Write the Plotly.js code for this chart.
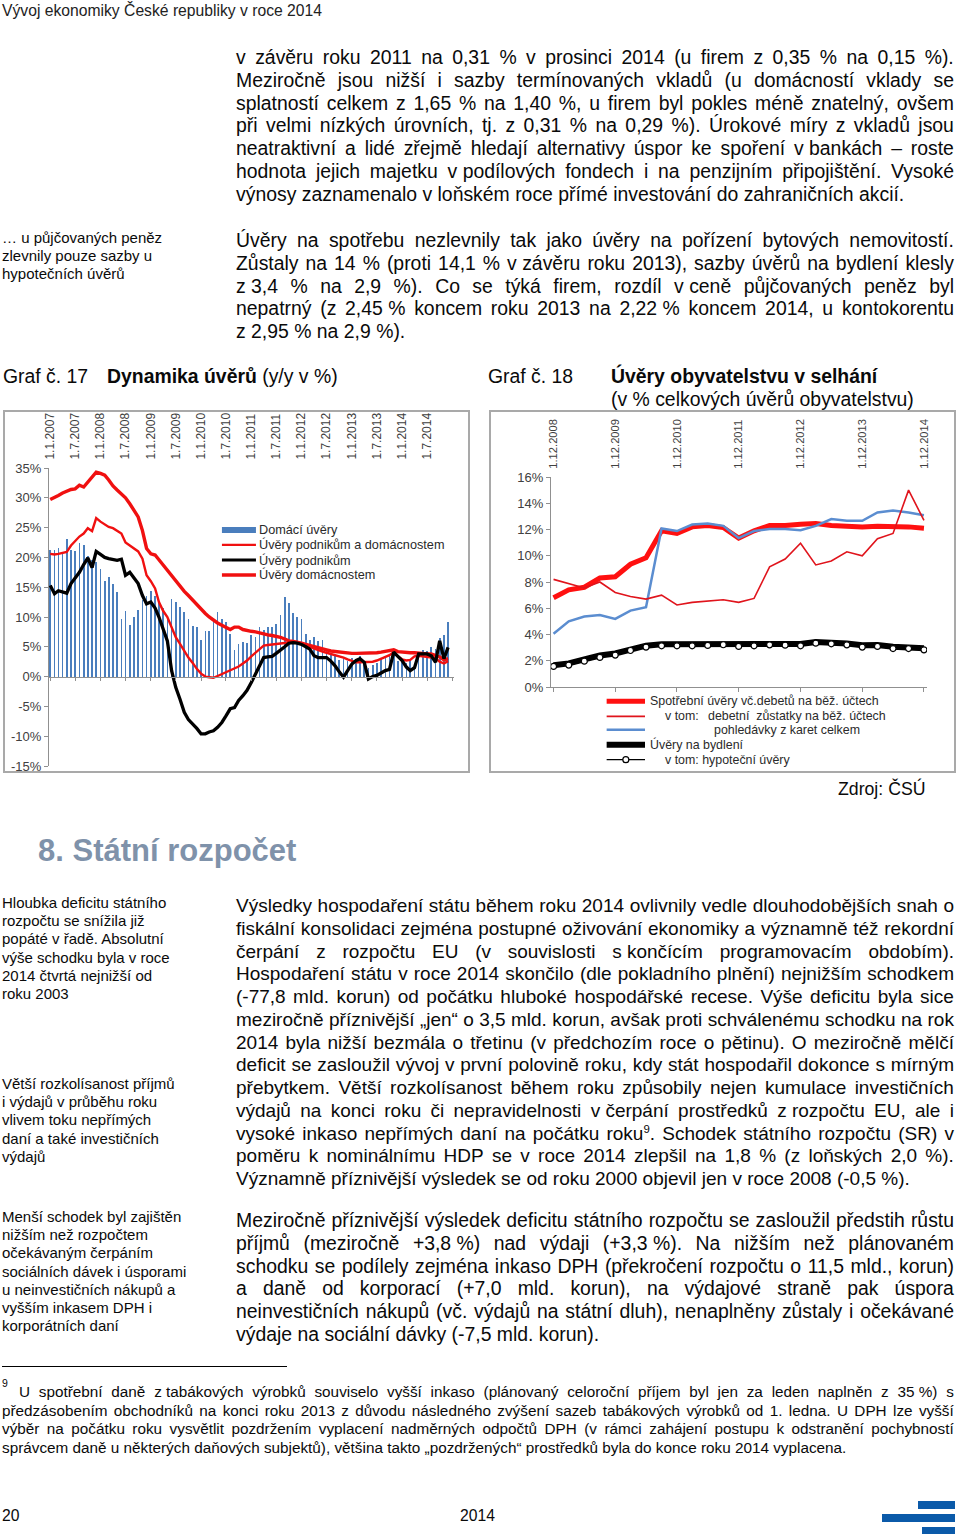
<!DOCTYPE html>
<html><head><meta charset="utf-8">
<script src="https://cdn.plot.ly/plotly-3.0.1.min.js"></script>
<style>
html,body{margin:0;padding:0}
body{width:960px;height:1536px;position:relative;background:#fff;font-family:"Liberation Sans",Arial,sans-serif;color:#0a0a0a;overflow:hidden}
.abs{position:absolute;white-space:nowrap}
.frame{position:absolute;border:2px solid #a9a9a9;box-sizing:border-box;pointer-events:none;z-index:5}
.chart{position:absolute}
sup{font-size:0.6em;line-height:0;vertical-align:super}
</style>
</head><body>
<div id="c17" class="chart" style="left:3px;top:410px;width:467px;height:363px"></div>
<div class="frame" style="left:3px;top:410px;width:467px;height:363px"></div>
<div id="c18" class="chart" style="left:489px;top:410px;width:467px;height:363px"></div>
<div class="frame" style="left:489px;top:410px;width:467px;height:363px"></div>
<script>
// ---------- Chart 17 data: monthly, Jan 2007 - Dec 2014 ----------
const years17 = [2007, 2008, 2009, 2010, 2011, 2012, 2013, 2014];
const tickDates17 = ['2007-01-01','2007-07-01','2008-01-01','2008-07-01','2009-01-01','2009-07-01','2010-01-01','2010-07-01','2011-01-01','2011-07-01','2012-01-01','2012-07-01','2013-01-01','2013-07-01','2014-01-01','2014-07-01'];
const tickLabels17 = ['1.1.2007','1.7.2007','1.1.2008','1.7.2008','1.1.2009','1.7.2009','1.1.2010','1.7.2010','1.1.2011','1.7.2011','1.1.2012','1.7.2012','1.1.2013','1.7.2013','1.1.2014','1.7.2014'];
const zeroTicks17 = ['2007-01-01','2007-07-01','2008-01-01','2008-07-01','2009-01-01','2009-07-01','2010-01-01','2010-07-01','2011-01-01','2011-07-01','2012-01-01','2012-07-01','2013-01-01','2013-07-01','2014-01-01','2014-07-01','2015-01-01'];
const yTicks17 = [-15, -10, -5, 0, 5, 10, 15, 20, 25, 30, 35];
const yTickText17 = ['-15%','-10%','-5%','0%','5%','10%','15%','20%','25%','30%','35%'];

const domaciUvery = [
 21.2, 21.2, 21.6, 20.6, 23.1, 21.2, 21.0, 22.4, 22.1, 20.2, 19.6, 19.3,
 18.0, 16.0, 16.7, 15.6, 14.2, 9.7, 11.0, 8.6, 10.0, 11.2, 12.9, 13.5,
 14.3, 13.6, 12.6, 11.5, 10.0, 13.0, 12.6, 11.6, 10.9, 9.6, 8.5, 8.3,
 6.2, 7.6, 7.6, 9.1, 10.8, 9.6, 9.2, 7.1, 4.4, 5.4, 5.8, 5.6,
 6.9, 6.6, 8.3, 7.8, 8.3, 8.4, 8.9, 10.3, 13.4, 12.3, 10.6, 10.0,
 9.6, 7.2, 6.1, 6.6, 6.0, 6.1, 4.7, 3.6, 3.4, 2.8, 3.0, 2.6,
 3.2, 3.0, 3.4, 2.5, 1.4, 1.9, 2.2, 3.0, 3.2, 3.6, 3.8, 2.7,
 3.0, 2.3, 2.6, 1.6, 4.1, 4.4, 4.3, 5.0, 4.6, 6.4, 6.9, 9.2];
const uveryPodnikumADomacnostem = [
 20.6, 20.5, 20.6, 20.8, 20.9, 22.0, 22.8, 23.5, 24.0, 24.9, 24.4, 26.6,
 26.0, 25.5, 25.1, 24.9, 24.5, 24.0, 22.5, 22.0, 21.6, 21.0, 19.8, 17.0,
 16.0, 14.8, 12.5, 11.0, 10.0, 8.2, 6.6, 5.5, 4.3, 3.2, 2.3, 1.3,
 0.5, 0.0, -0.1, -0.2, 0.1, 0.4, 0.7, 1.0, 1.3, 1.7, 2.2, 2.7,
 3.4, 4.0, 4.6, 5.2, 5.3, 5.4, 5.5, 5.5, 5.6, 5.7, 5.8, 5.8,
 5.6, 5.3, 5.0, 4.7, 4.5, 4.2, 4.0, 3.8, 3.6, 3.5, 3.2, 2.9,
 2.6, 2.4, 2.4, 2.4, 2.4, 2.5, 2.7, 3.0, 3.2, 3.6, 4.1, 3.4,
 2.9, 2.7, 2.8, 3.4, 3.5, 3.4, 3.3, 3.2, 3.1, 2.5, 2.2, 2.6];
const uveryPodnikum = [
 15.3, 13.9, 14.4, 14.2, 14.0, 15.6, 16.5, 17.5, 18.8, 19.9, 18.3, 21.0,
 20.5, 20.0, 19.8, 19.6, 19.5, 19.7, 17.0, 17.5, 16.6, 15.6, 13.6, 12.2,
 12.5, 11.5, 10.0, 8.0, 6.0, 1.0, -1.8, -3.8, -6.0, -7.2, -7.9, -8.7,
 -9.6, -9.6, -9.3, -9.1, -8.5, -7.7, -6.6, -5.4, -5.2, -4.0, -3.2, -2.3,
 -1.0, 0.4, 1.8, 3.2, 3.3, 3.4, 3.9, 4.4, 5.0, 5.6, 5.7, 5.6,
 5.4, 5.0, 4.6, 3.5, 3.2, 3.2, 3.2, 2.6, 1.8, 0.8, -0.1, 1.0,
 2.1, 2.7, 3.0, 2.4, -0.4, 0.0, 0.2, 0.6, 1.0, 1.2, 4.1, 3.4,
 2.7, 1.6, 1.0, 1.5, 3.8, 3.8, 3.8, 3.5, 2.4, 6.0, 3.0, 4.9];
const uveryDomacnostem = [
 29.7, 30.0, 30.4, 30.8, 31.1, 31.4, 31.5, 32.1, 31.8, 32.6, 33.3, 34.3,
 34.1, 33.8, 33.0, 32.0, 31.3, 30.7, 30.0, 29.0, 28.0, 26.8, 24.5, 21.5,
 20.6, 20.4, 19.6, 18.7, 17.8, 17.0, 16.2, 15.3, 14.3, 13.6, 12.8, 12.0,
 11.3, 10.6, 10.0, 9.4, 9.0, 8.6, 8.3, 7.9, 8.3, 8.3, 7.9, 7.7,
 7.6, 7.5, 7.3, 7.2, 7.0, 6.9, 6.8, 6.6, 6.3, 6.0, 5.9, 5.8,
 5.6, 5.4, 5.2, 5.0, 4.8, 4.6, 4.5, 4.3, 4.2, 4.1, 4.0, 3.9,
 3.9, 3.9, 3.9, 4.0, 4.0, 4.0, 4.0, 4.1, 4.2, 4.3, 4.5, 4.2,
 4.1, 4.0, 4.0, 4.0, 3.9, 3.9, 3.8, 3.8, 3.6, 3.3, 2.8, 3.0];
const legend17 = ['Domácí úvěry','Úvěry podnikům a domácnostem','Úvěry podnikům','Úvěry domácnostem'];

// ---------- Chart 18 data: quarterly, Dec 2008 - Dec 2014 ----------
const quarters18 = ['2008-12-01','2009-03-01','2009-06-01','2009-09-01','2009-12-01','2010-03-01','2010-06-01','2010-09-01','2010-12-01','2011-03-01','2011-06-01','2011-09-01','2011-12-01','2012-03-01','2012-06-01','2012-09-01','2012-12-01','2013-03-01','2013-06-01','2013-09-01','2013-12-01','2014-03-01','2014-06-01','2014-09-01','2014-12-01'];
const tickDates18 = ['2008-12-01','2009-12-01','2010-12-01','2011-12-01','2012-12-01','2013-12-01','2014-12-01'];
const tickLabels18 = ['1.12.2008','1.12.2009','1.12.2010','1.12.2011','1.12.2012','1.12.2013','1.12.2014'];
const yTicks18 = [0, 2, 4, 6, 8, 10, 12, 14, 16];
const yTickText18 = ['0%','2%','4%','6%','8%','10%','12%','14%','16%'];
const spotrebniUvery = [6.8, 7.4, 7.6, 8.3, 8.4, 9.35, 9.85, 11.9, 11.7, 12.2, 12.3, 12.15, 11.35, 11.9, 12.3, 12.3, 12.4, 12.45, 12.3, 12.25, 12.2, 12.25, 12.25, 12.2, 12.1];
const debetniZustatky = [8.2, 7.9, 7.55, 8.0, 7.2, 6.9, 6.7, 7.0, 6.25, 6.45, 6.55, 6.65, 6.45, 6.75, 9.15, 9.75, 10.95, 9.3, 9.6, 10.3, 10.0, 11.3, 11.7, 15.0, 12.7];
const pohledavkyKarty = [4.05, 5.0, 5.37, 5.49, 5.19, 5.82, 6.08, 12.08, 11.88, 12.38, 12.46, 12.28, 11.35, 11.88, 12.03, 12.03, 11.95, 12.28, 12.79, 12.66, 12.66, 13.3, 13.45, 13.3, 13.09];
const uveryNaBydleni = [1.65, 1.8, 2.1, 2.4, 2.55, 2.9, 3.15, 3.25, 3.25, 3.25, 3.28, 3.3, 3.22, 3.26, 3.32, 3.31, 3.28, 3.42, 3.38, 3.32, 3.18, 3.2, 3.06, 3.04, 2.95];
const hypotecniUvery = [1.57, 1.67, 1.97, 2.25, 2.43, 2.78, 3.04, 3.14, 3.14, 3.14, 3.17, 3.22, 3.09, 3.14, 3.21, 3.19, 3.14, 3.34, 3.29, 3.21, 3.04, 3.09, 2.93, 2.93, 2.83];
const legend18 = ['Spotřební úvěry vč.debetů na běž. účtech','v tom:','debetní\u00a0 zůstatky na běž. účtech','pohledávky z karet celkem','Úvěry na bydlení','v tom: hypoteční úvěry'];

// month category list for chart 17
const months17 = [];
years17.forEach(y => { for (let m = 1; m <= 12; m++) months17.push(y + '-' + (m < 10 ? '0' + m : m) + '-01'); });

const FONT = 'Liberation Sans, Arial, sans-serif';
const RED = '#f01010';

// ---------- Chart 17 ----------
const t17 = [
  {type:'bar', x:months17, y:domaciUvery, marker:{color:'#4a7ebd', line:{width:0}}, width:12*86400000},
  {type:'scatter', mode:'lines', x:months17, y:uveryDomacnostem, line:{color:RED, width:3.4}},
  {type:'scatter', mode:'lines', x:months17, y:uveryPodnikumADomacnostem, line:{color:RED, width:2.4}},
  {type:'scatter', mode:'lines', x:months17, y:uveryPodnikum, line:{color:'#000', width:3.3}},
  {type:'scatter', mode:'lines', x:[], y:[], xaxis:'x2', showlegend:false, hoverinfo:'skip'}
];
const leg17y = [0.792, 0.742, 0.691, 0.641];
const leg17Style = [{c:'#4a7ebd', w:6},{c:RED, w:2.4},{c:'#000', w:3},{c:RED, w:3.3}];
const shapes17 = leg17Style.map((s,i)=>({type:'line', xref:'paper', yref:'paper', x0:0.427, x1:0.511, y0:leg17y[i], y1:leg17y[i], line:{color:s.c, width:s.w}}));
const ann17 = legend17.map((t,i)=>({text:t, xref:'paper', yref:'paper', x:0.514, y:leg17y[i], xanchor:'left', yanchor:'middle', showarrow:false, font:{family:FONT, size:12.7, color:'#2a2a2a'}}));
const layout17 = {
  width:467, height:363, margin:{l:46, r:16, t:58, b:7},
  paper_bgcolor:'#fff', plot_bgcolor:'#fff', showlegend:false, bargap:0,
  font:{family:FONT, size:13, color:'#404040'},
  xaxis:{type:'date', range:['2006-12-23','2015-01-13'], anchor:'free', position:0.3, showline:true, linecolor:'#909090', linewidth:1,
    ticks:'outside', ticklen:3, tickcolor:'#909090', tickvals:zeroTicks17, showticklabels:false, showgrid:false, zeroline:false},
  xaxis2:{type:'date', range:['2006-12-23','2015-01-13'], overlaying:'x', side:'top', anchor:'y', showline:false, ticks:'outside', ticklen:5,
    tickcolor:'rgba(0,0,0,0)', tickvals:tickDates17, ticktext:tickLabels17, tickangle:-90, showgrid:false, zeroline:false,
    tickfont:{family:FONT, size:12, color:'#404040'}},
  yaxis:{range:[-15,35], tickvals:yTicks17, ticktext:yTickText17, showline:true, linecolor:'#909090', linewidth:1, ticks:'outside', ticklen:4,
    tickcolor:'#909090', showgrid:false, zeroline:false, ticklabeloverflow:'allow', tickfont:{family:FONT, size:13, color:'#404040'}},
  shapes:shapes17, annotations:ann17
};
Plotly.newPlot('c17', t17, layout17, {staticPlot:true, displayModeBar:false});

// ---------- Chart 18 ----------
const t18 = [
  {type:'scatter', mode:'lines', x:quarters18, y:spotrebniUvery, line:{color:'#ff1010', width:5}},
  {type:'scatter', mode:'lines', x:quarters18, y:pohledavkyKarty, line:{color:'#5b8dd0', width:2.5}},
  {type:'scatter', mode:'lines', x:quarters18, y:debetniZustatky, line:{color:'#e0141c', width:1.6}},
  {type:'scatter', mode:'lines', x:quarters18, y:uveryNaBydleni, line:{color:'#000', width:6}},
  {type:'scatter', mode:'lines+markers', x:quarters18, y:hypotecniUvery, line:{color:'#000', width:1.2},
    marker:{symbol:'circle', size:6, color:'#fff', line:{color:'#000', width:1.2}}},
  {type:'scatter', mode:'lines', x:[], y:[], xaxis:'x2', hoverinfo:'skip'}
];
const leg18y = [-0.068, -0.140, -0.203, -0.275, -0.346];
const leg18Style = [{c:'#ff1010', w:5},{c:'#e0141c', w:1.6},{c:'#5b8dd0', w:2.5},{c:'#000', w:6},{c:'#000', w:1.2}];
const shapes18 = leg18Style.map((s,i)=>({type:'line', xref:'paper', yref:'paper', x0:0.148, x1:0.250, y0:leg18y[i], y1:leg18y[i], line:{color:s.c, width:s.w}}));
shapes18.push({type:'circle', xref:'paper', yref:'paper', xsizemode:'pixel', ysizemode:'pixel', xanchor:0.199, yanchor:leg18y[4],
  x0:-3, x1:3, y0:-3, y1:3, fillcolor:'#fff', line:{color:'#000', width:1.2}});
const leg18Pos = [[0.258,0],[0.298,1],[0.413,1],[0.428,2],[0.258,3],[0.298,4]];
const ann18 = legend18.map((t,i)=>({text:t, xref:'paper', yref:'paper', x:leg18Pos[i][0], y:leg18y[leg18Pos[i][1]], xanchor:'left', yanchor:'middle',
  showarrow:false, font:{family:FONT, size:12.4, color:'#2a2a2a'}}));
const layout18 = {
  width:467, height:363, margin:{l:62, r:29, t:67, b:86},
  paper_bgcolor:'#fff', plot_bgcolor:'#fff', showlegend:false,
  font:{family:FONT, size:13, color:'#404040'},
  xaxis:{type:'date', range:['2008-11-16','2014-12-19'], showline:true, linecolor:'#909090', linewidth:1, ticks:'outside', ticklen:4,
    tickcolor:'#909090', tickvals:tickDates18, showticklabels:false, showgrid:false, zeroline:false},
  xaxis2:{type:'date', range:['2008-11-16','2014-12-19'], overlaying:'x', side:'top', anchor:'y', showline:false, ticks:'outside', ticklen:5,
    tickcolor:'rgba(0,0,0,0)', tickvals:tickDates18, ticktext:tickLabels18, tickangle:-90, showgrid:false, zeroline:false,
    tickfont:{family:FONT, size:11.2, color:'#404040'}},
  yaxis:{range:[0,16], tickvals:yTicks18, ticktext:yTickText18, showline:true, linecolor:'#909090', linewidth:1, ticks:'outside', ticklen:4,
    tickcolor:'#909090', showgrid:false, zeroline:false, ticklabeloverflow:'allow', tickfont:{family:FONT, size:13, color:'#404040'}},
  shapes:shapes18, annotations:ann18
};
Plotly.newPlot('c18', t18, layout18, {staticPlot:true, displayModeBar:false});

// ---------- page text ----------
function addLines(left, top, width, size, lh, lines, justify, extra){
  const box = document.createElement('div');
  box.style.cssText = 'position:absolute;left:'+left+'px;top:'+top+'px;width:'+width+'px;font-size:'+size+'px;line-height:'+lh+'px;' + (extra||'');
  lines.forEach((ln, i) => {
    const d = document.createElement('div');
    d.style.height = lh + 'px';
    d.style.whiteSpace = 'nowrap';
    if (justify && i < lines.length - 1) {
      d.style.display = 'flex';
      d.style.justifyContent = 'space-between';
      ln.split(' ').forEach(w => { const s = document.createElement('span'); s.innerHTML = w; d.appendChild(s); });
    } else d.innerHTML = ln;
    box.appendChild(d);
  });
  document.body.appendChild(box);
}
function addText(left, top, size, html, extra){
  const d = document.createElement('div');
  d.className = 'abs';
  d.style.cssText += 'left:'+left+'px;top:'+top+'px;font-size:'+size+'px;' + (extra||'');
  d.innerHTML = html;
  document.body.appendChild(d);
}
const NB = '\u00a0';
const BODY = 19.4, LH = 22.75;
addText(2, 2, 15.7, 'Vývoj ekonomiky České republiky v roce 2014', 'color:#222;line-height:18px');

addLines(236, 46, 718, BODY, LH, [
 'v závěru roku 2011 na 0,31 % v prosinci 2014 (u firem z 0,35 % na 0,15 %).',
 'Meziročně jsou nižší i sazby termínovaných vkladů (u domácností vklady se',
 'splatností celkem z 1,65 % na 1,40 %, u firem byl pokles méně znatelný, ovšem',
 'při velmi nízkých úrovních, tj. z 0,31 % na 0,29 %). Úrokové míry z vkladů jsou',
 'neatraktivní a lidé zřejmě hledají alternativy úspor ke spoření v'+NB+'bankách – roste',
 'hodnota jejich majetku v'+NB+'podílových fondech i na penzijním připojištění. Vysoké',
 'výnosy zaznamenalo v loňském roce přímé investování do zahraničních akcií.'
], true);

addLines(2, 229, 230, 15, 18.2, ['… u půjčovaných peněz','zlevnily pouze sazby u','hypotečních úvěrů'], false);

addLines(236, 229, 718, BODY, LH, [
 'Úvěry na spotřebu nezlevnily tak jako úvěry na pořízení bytových nemovitostí.',
 'Zůstaly na 14 % (proti 14,1 % v'+NB+'závěru roku 2013), sazby úvěrů na bydlení klesly',
 'z'+NB+'3,4 % na 2,9 %). Co se týká firem, rozdíl v'+NB+'ceně půjčovaných peněz byl',
 'nepatrný (z 2,45'+NB+'% koncem roku 2013 na 2,22'+NB+'% koncem 2014, u kontokorentu',
 'z'+NB+'2,95 % na 2,9 %).'
], true);

addText(3, 365, 19.4, 'Graf č. 17', 'line-height:23px');
addText(107, 365, 19.4, '<b>Dynamika úvěrů</b> (y/y v %)', 'line-height:23px');
addText(488, 365, 19.4, 'Graf č. 18', 'line-height:23px');
addText(611, 365, 19.4, '<b>Úvěry obyvatelstvu v selhání</b>', 'line-height:23px');
addText(611, 388, 19.4, '(v % celkových úvěrů obyvatelstvu)', 'line-height:23px');

addText(838, 778, 17.7, 'Zdroj: ČSÚ', 'line-height:22.75px');

addText(38, 833, 31, '<b>8. Státní rozpočet</b>', 'line-height:36px;color:#7f92aa');

addLines(2, 894, 230, 15, 18.2, ['Hloubka deficitu státního','rozpočtu se snížila již','popáté v řadě. Absolutní','výše schodku byla v roce','2014 čtvrtá nejnižší od','roku 2003'], false);
addLines(2, 1075, 230, 15, 18.2, ['Větší rozkolísanost příjmů','i výdajů v průběhu roku','vlivem toku nepřímých','daní a také investičních','výdajů'], false);
addLines(2, 1208, 230, 15, 18.2, ['Menší schodek byl zajištěn','nižším než rozpočtem','očekávaným čerpáním','sociálních dávek i úsporami','u neinvestičních nákupů a','vyšším inkasem DPH i','korporátních daní'], false);

addLines(236, 895, 718, 19.0, LH, [
 'Výsledky hospodaření státu během roku 2014 ovlivnily vedle dlouhodobějších snah o',
 'fiskální konsolidaci zejména postupné oživování ekonomiky a významně též rekordní',
 'čerpání z rozpočtu EU (v souvislosti s'+NB+'končícím programovacím obdobím).',
 'Hospodaření státu v roce 2014 skončilo (dle pokladního plnění) nejnižším schodkem',
 '(-77,8 mld. korun) od počátku hluboké hospodářské recese. Výše deficitu byla sice',
 'meziročně příznivější „jen“ o 3,5 mld. korun, avšak proti schválenému schodku na rok',
 '2014 byla nižší bezmála o třetinu (v předchozím roce o pětinu). O meziročně mělčí',
 'deficit se zasloužil vývoj v první polovině roku, kdy stát hospodařil dokonce s mírným',
 'přebytkem. Větší rozkolísanost během roku způsobily nejen kumulace investičních',
 'výdajů na konci roku či nepravidelnosti v'+NB+'čerpání prostředků z'+NB+'rozpočtu EU, ale i',
 'vysoké inkaso nepřímých daní na počátku roku<sup>9</sup>. Schodek státního rozpočtu (SR) v',
 'poměru k nominálnímu HDP se v roce 2014 zlepšil na 1,8 % (z loňských 2,0 %).',
 'Významně příznivější výsledek se od roku 2000 objevil jen v roce 2008 (-0,5 %).'
], true);

addLines(236, 1209, 718, BODY, LH, [
 'Meziročně příznivější výsledek deficitu státního rozpočtu se zasloužil předstih růstu',
 'příjmů (meziročně +3,8'+NB+'%) nad výdaji (+3,3'+NB+'%). Na nižším než plánovaném',
 'schodku se podílely zejména inkaso DPH (překročení rozpočtu o 11,5 mld., korun)',
 'a daně od korporací (+7,0 mld. korun), na výdajové straně pak úspora',
 'neinvestičních nákupů (vč. výdajů na státní dluh), nenaplněny zůstaly i očekávané',
 'výdaje na sociální dávky (-7,5 mld. korun).'
], true);

// footnote
const fl = document.createElement('div');
fl.style.cssText = 'position:absolute;left:2px;top:1366px;width:285px;height:1px;background:#000';
document.body.appendChild(fl);
addText(2, 1377, 10.5, '9', 'line-height:12px');
const FN = 15.3, FLH = 18.6;
addLines(19, 1383, 935, FN, FLH, [
 'U spotřební daně z'+NB+'tabákových výrobků souviselo vyšší inkaso (plánovaný celoroční příjem byl jen za leden naplněn z 35'+NB+'%) s',
 ''
], true);
addLines(2, 1383 + FLH, 952, FN, FLH, [
 'předzásobením obchodníků na konci roku 2013 z důvodu následného zvýšení sazeb tabákových výrobků od 1. ledna. U DPH lze vyšší',
 'výběr na počátku roku vysvětlit pozdržením vyplacení nadměrných odpočtů DPH (v rámci zahájení postupu k odstranění pochybností',
 'správcem daně u některých daňových subjektů), většina takto „pozdržených“ prostředků byla do konce roku 2014 vyplacena.'
], true);

// footer
addText(2, 1507, 15.7, '20', 'line-height:18px');
addText(460, 1507, 15.7, '2014', 'line-height:18px');
[[918,1501,37,8],[882,1514,73,8],[922,1527,33,7]].forEach(r => {
  const b = document.createElement('div');
  b.style.cssText = 'position:absolute;left:'+r[0]+'px;top:'+r[1]+'px;width:'+r[2]+'px;height:'+r[3]+'px;background:#0b5aa9';
  document.body.appendChild(b);
});
</script>
</body></html>
